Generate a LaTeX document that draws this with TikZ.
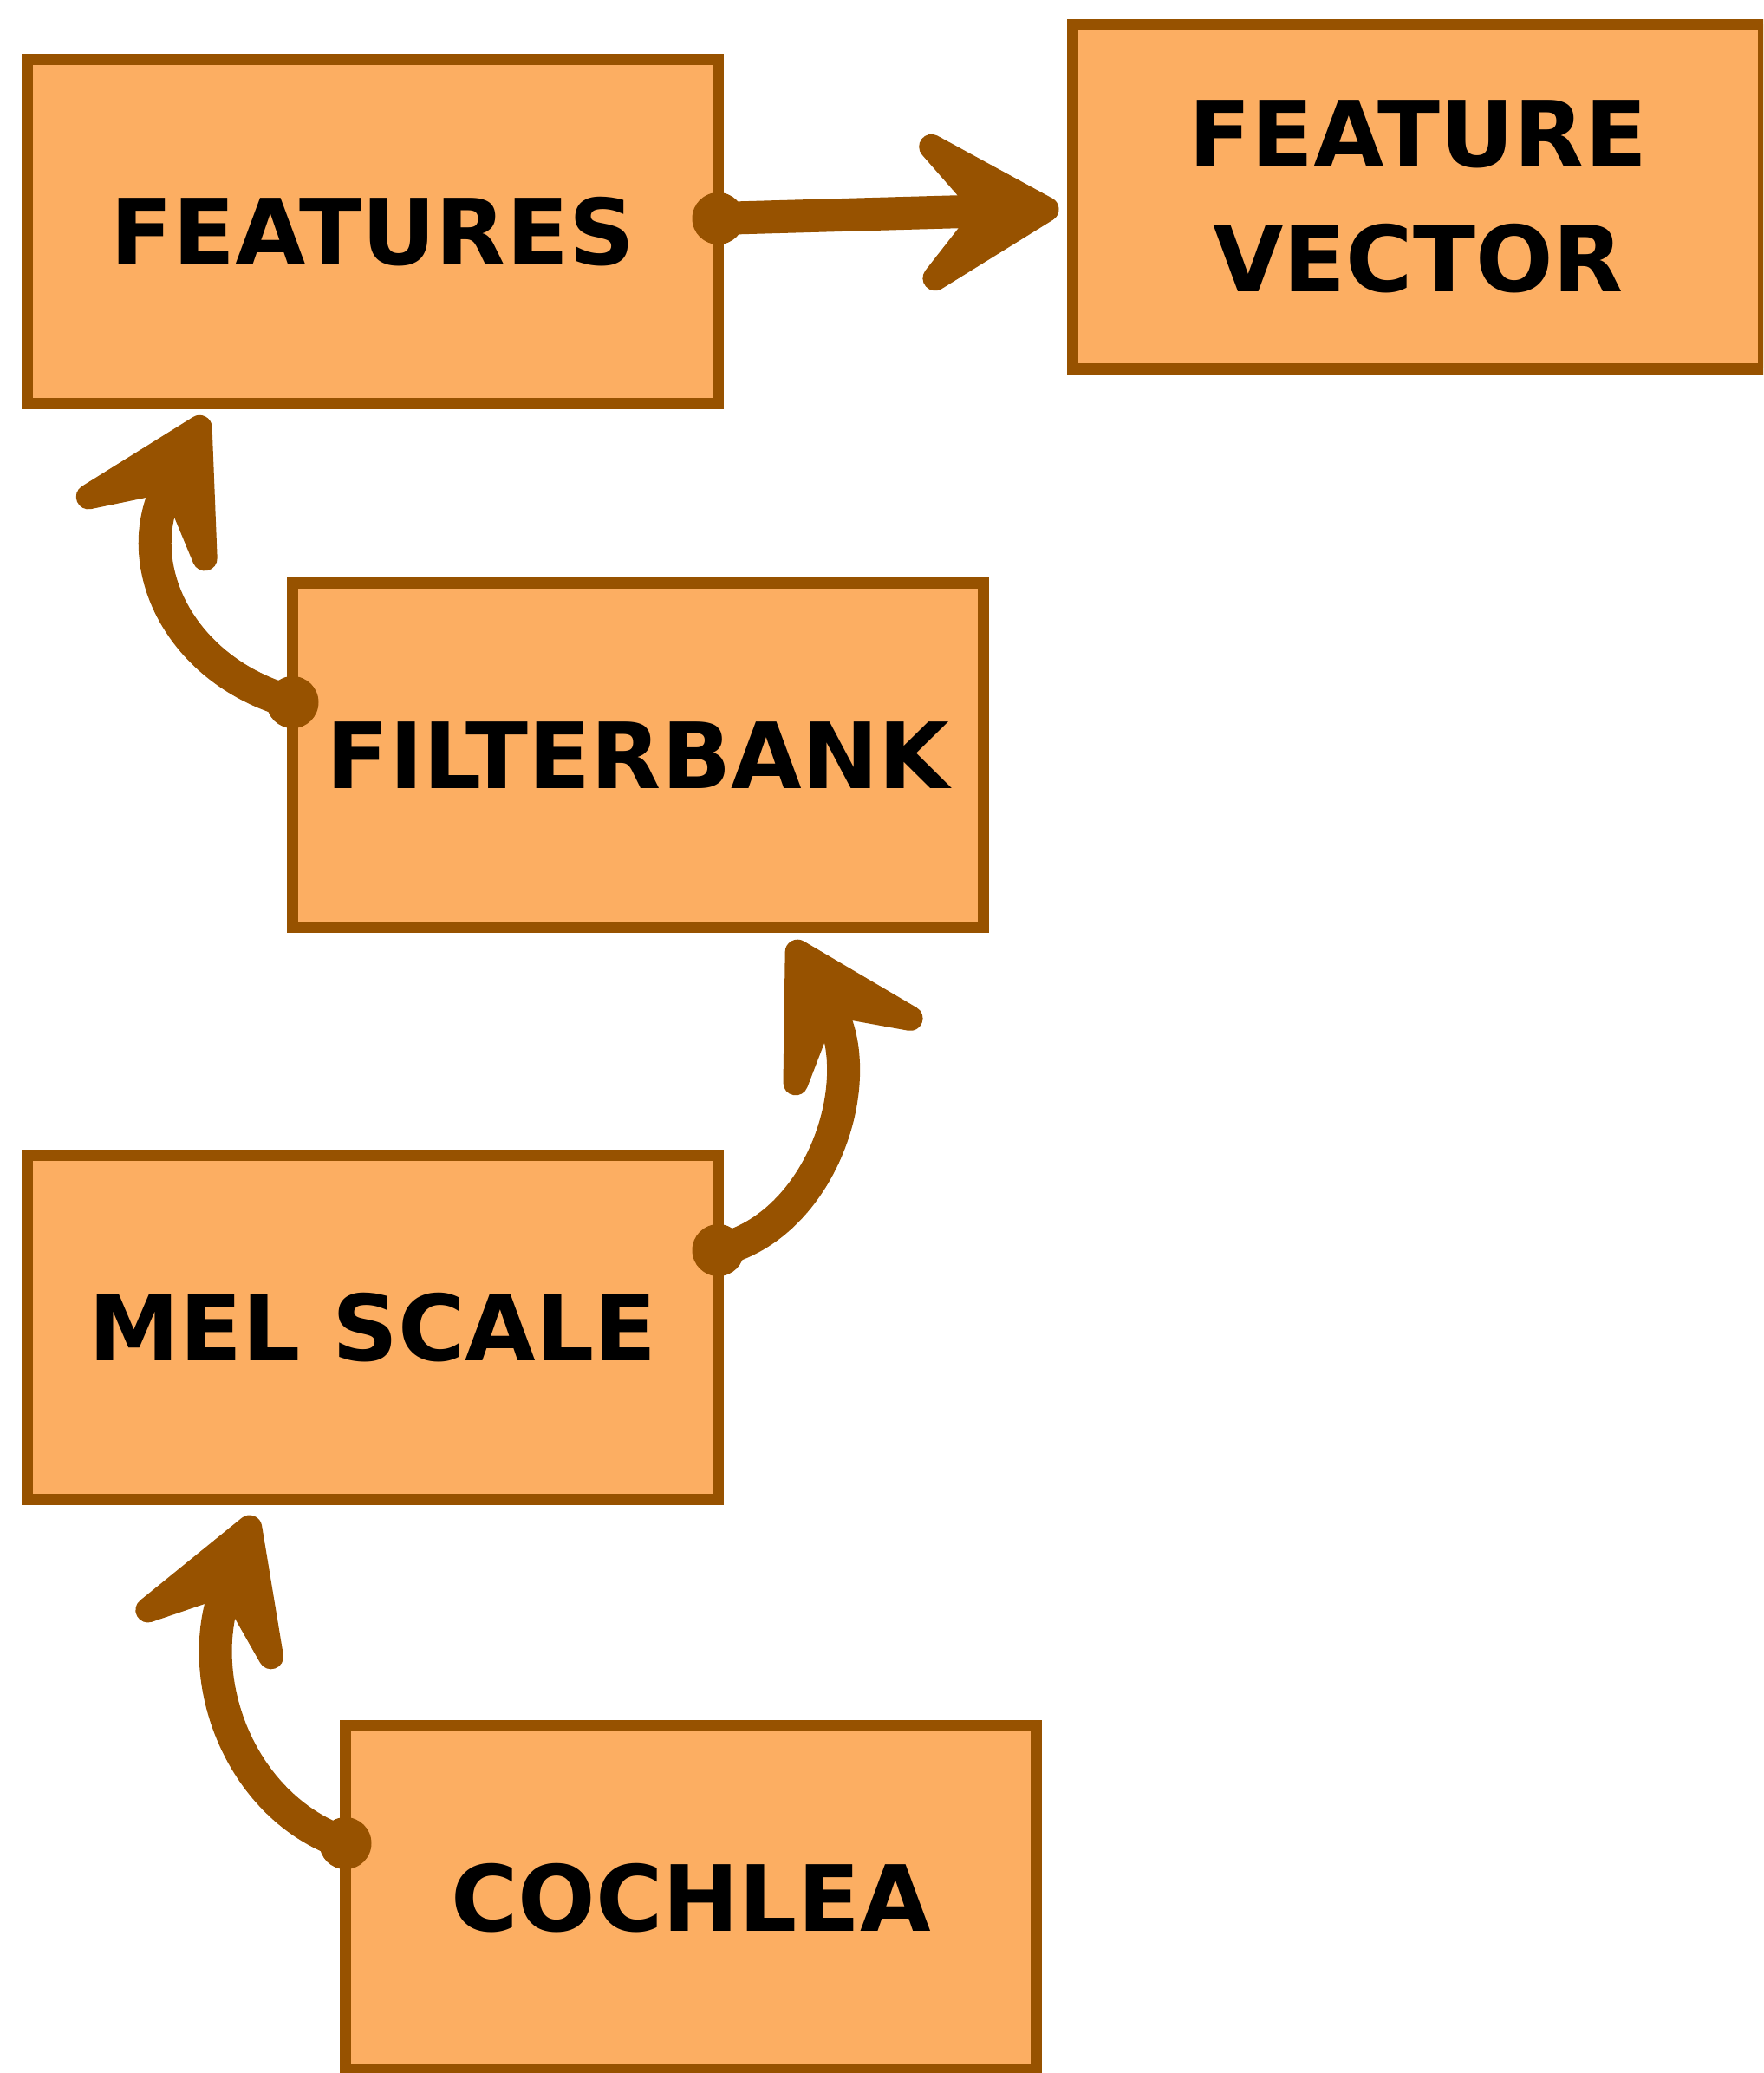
\documentclass[tikz,border=0pt]{standalone}
\usepackage{fontspec}
\setmainfont{DejaVu Sans}
\usetikzlibrary{arrows.meta}
\definecolor{boxfill}{HTML}{FCAE62}
\definecolor{boxline}{HTML}{975200}
\begin{document}
\begin{tikzpicture}[
  box/.style={draw=boxline, fill=boxfill, line width=0.13cm, minimum width=7.97cm, minimum height=3.97cm, inner sep=0pt, outer sep=0pt, align=center, font=\bfseries\fontsize{30}{41}\selectfont},
  conn/.style={draw=boxline, line width=0.38cm, line cap=round, -{Stealth[round, length=2.2cm, width=2.55cm, inset=1.05cm]}},
  blob/.style={fill=boxline}
]
\clip (0,0) rectangle (20.34,-23.91);
\node[box] (feat) at (4.30,-2.67) {FEATURES};
\node[box] (fv) at (16.36,-2.27) {FEATURE\\VECTOR};
\node[box] (fb) at (7.36,-8.71) {FILTERBANK};
\node[box] (mel) at (4.30,-15.31) {MEL SCALE};
\node[box] (coch) at (7.97,-21.89) {COCHLEA};

\coordinate (s1) at ([yshift=0.15cm]feat.east);
\coordinate (e1) at ([xshift=-0.16cm,yshift=-0.14cm]fv.west);
\coordinate (s2) at ([yshift=0.61cm]fb.west);
\coordinate (e2) at ([xshift=-1.93cm,yshift=-0.15cm]feat.south);
\coordinate (s3) at ([yshift=0.89cm]mel.east);
\coordinate (e3) at ([xshift=1.77cm,yshift=-0.16cm]fb.south);
\coordinate (s4) at ([yshift=0.63cm]coch.west);
\coordinate (e4) at ([xshift=-1.37cm,yshift=-0.19cm]mel.south);

\draw[conn] (s1) -- (e1);
\draw[conn] (s2) .. controls +(-1.30,0.35) and +(-0.90,-1.70) .. (e2);
\draw[conn] (s3) .. controls +(1.20,0.28) and +(0.90,-1.60) .. (e3);
\draw[conn] (s4) .. controls +(-1.20,0.40) and +(-0.72,-1.90) .. (e4);

\fill[blob] (s1) circle (0.3cm);
\fill[blob] (s2) circle (0.3cm);
\fill[blob] (s3) circle (0.3cm);
\fill[blob] (s4) circle (0.3cm);
\end{tikzpicture}
\end{document}
